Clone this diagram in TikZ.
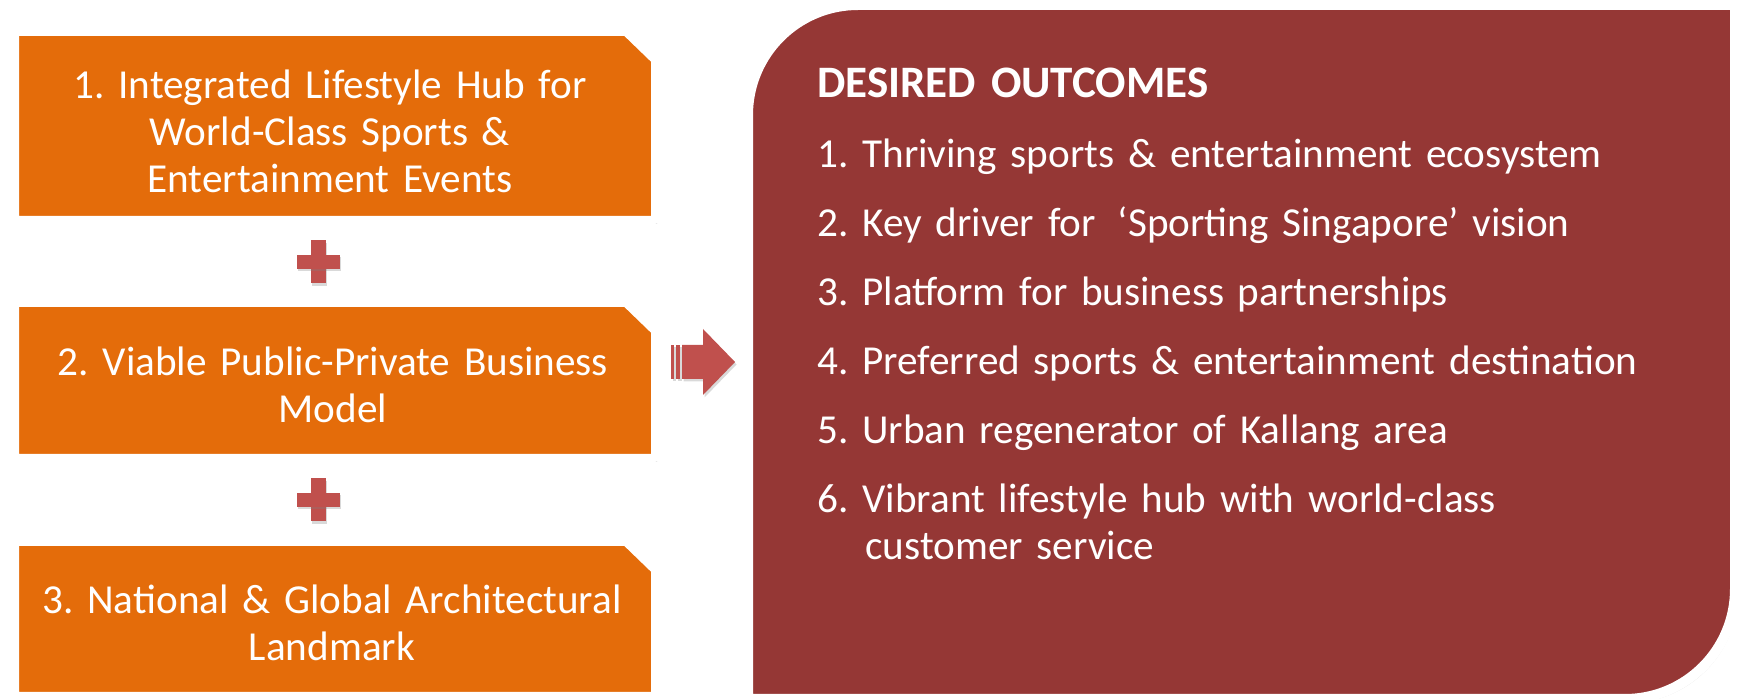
\documentclass[tikz,border=0pt]{standalone}
\usepackage{fontspec}
\setmainfont{Carlito}
\frenchspacing
\usetikzlibrary{shadows}
\definecolor{pillarorange}{HTML}{E46C0A}
\definecolor{outcomered}{HTML}{953735}
\definecolor{plusred}{HTML}{C0504D}
\tikzstyle{pillar}=[fill=pillarorange, draw=white, line width=4pt, line join=round, drop shadow={shadow xshift=1pt, shadow yshift=-2pt, opacity=.3}]
\tikzstyle{outcome}=[fill=outcomered, draw=white, line width=5pt, drop shadow={shadow xshift=1.5pt, shadow yshift=-2pt, opacity=.3}]
\tikzstyle{pillartext}=[text=white, align=center, text width=320pt, inner sep=0, anchor=base, font=\fontsize{20.6}{23.5}\selectfont]
\tikzstyle{itemtext}=[text=white, align=left, text width=440pt, inner sep=0, anchor=base west, font=\fontsize{20.6}{23.5}\selectfont]
\tikzstyle{plussign}=[fill=plusred, drop shadow={shadow xshift=.8pt, shadow yshift=-1.2pt, opacity=.3}]
\newcommand{\drawpillar}[2]{
  \draw[pillar] (15,#1) -- (626,#1) -- (655,{#1+28}) -- (655,#2) -- (15,#2) -- cycle;
}

\begin{document}
\begin{tikzpicture}[x=0.5pt, y=-0.5pt]
  \useasboundingbox (0,0) rectangle (1737,699);
  \drawpillar{32}{220}
  \drawpillar{303}{458}
  \drawpillar{542}{696}
  \node[pillartext] (hub) at (330,99) {1. Integrated Lifestyle Hub for\\World-Class Sports \&\\Entertainment Events};
  \node[pillartext] (model) at (333,376) {2. Viable Public-Private Business\\Model};
  \node[pillartext] (landmark) at (332,614) {3. National \& Global Architectural\\Landmark};
  \foreach \y in {262,500} {
    \fill[plussign] (310.5,240.5-262+\y) rectangle (325.5,283.5-262+\y);
    \fill[plussign] (296.5,\y-7) rectangle (339.5,\y+7);
  }
  % arrow with two stripes
  \fill[plussign] (682,345) -- (703,345) -- (703,329) -- (735,362) -- (703,395) -- (703,379) -- (682,379) -- cycle;
  \fill[plussign] (671,345) rectangle (674,379);
  \fill[plussign] (676,345) rectangle (680,379);
  \draw[outcome] (748,699) -- (748,115) arc[start angle=180, end angle=270, radius=110]
    -- (1735,5) -- (1735,589) arc[start angle=0, end angle=90, radius=110] -- cycle;
  \node[itemtext, font=\fontsize{22.5}{25}\selectfont\bfseries] (title) at (817,98) {DESIRED OUTCOMES};
  \foreach \txt [count=\i] in {Thriving sports \& entertainment ecosystem,
      Key driver for\hspace{11pt}‘Sporting Singapore’ vision,
      Platform for business partnerships,
      Preferred sports \& entertainment destination,
      Urban regenerator of Kallang area,
      {Vibrant lifestyle hub with world-class\\\hspace*{24pt}customer service}}
    \node[itemtext] (item\i) at (817,{168+69*(\i-1)}) {\i. \txt};
\end{tikzpicture}
\end{document}
